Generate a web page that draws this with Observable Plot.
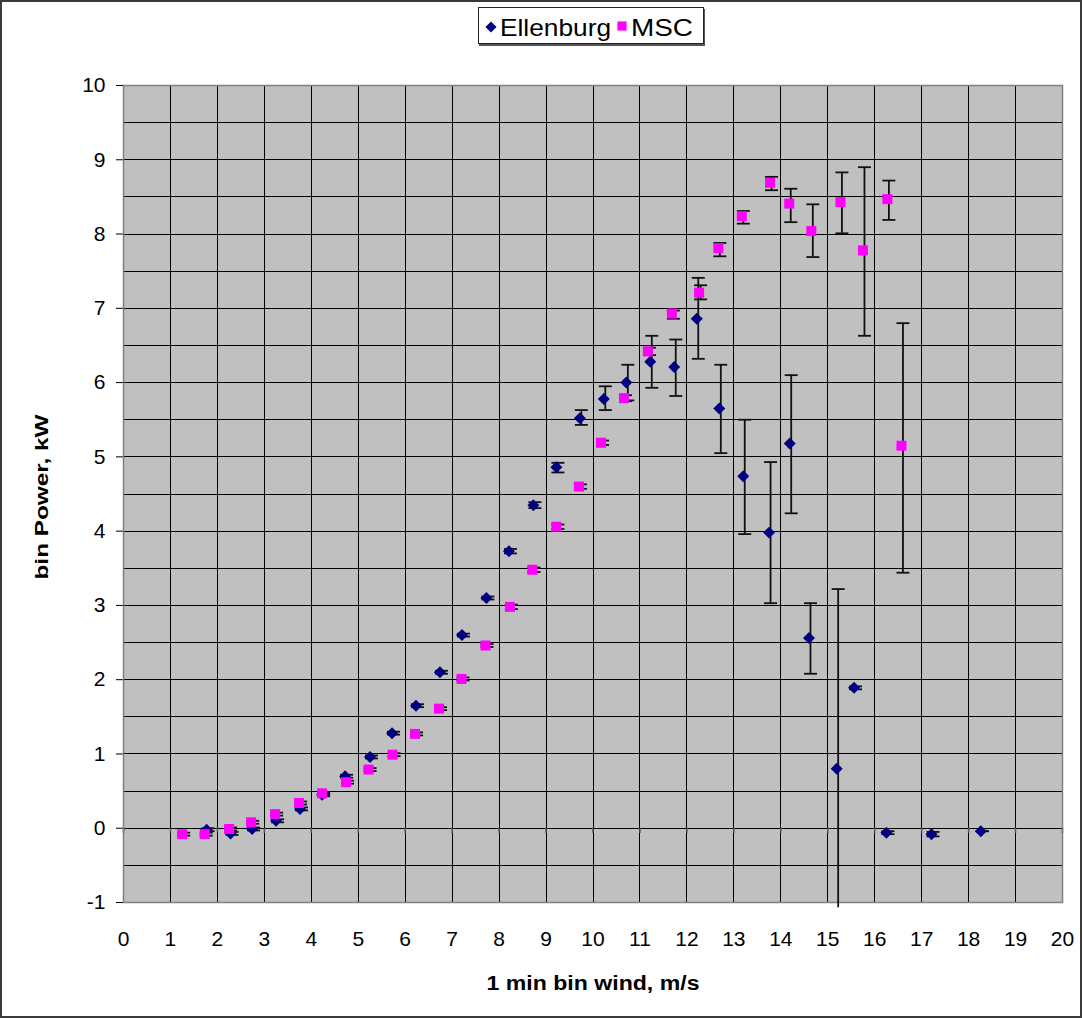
<!DOCTYPE html>
<html>
<head>
<meta charset="utf-8">
<script src="https://cdn.jsdelivr.net/npm/d3@7"></script>
<script src="https://cdn.jsdelivr.net/npm/@observablehq/plot@0.6"></script>
<style>
  html, body { margin: 0; padding: 0; background: #fff; }
  #wrap { position: relative; width: 1082px; height: 1018px; overflow: hidden; font-family: Arial, "Liberation Sans", sans-serif; }
  #border { position: absolute; left: 0; top: 0; width: 1082px; height: 1018px; box-sizing: border-box; border: 2px solid #3a3a3a; pointer-events: none; }
  #legend { position: absolute; left: 478px; top: 7px; width: 226px; height: 37px; background: #fff; border: 1px solid #222; box-shadow: 1px 2px 0 #555; box-sizing: border-box; }
  #legend svg { position: absolute; left: 0; top: 0; }
  #chart { position: absolute; left: 0; top: 0; }
</style>
</head>
<body>
<div id="wrap">
  <div id="chart"></div>
  <div id="legend"></div>
  <div id="border"></div>
</div>
<script>
// ---- Data ----
const seriesNames = ["Ellenburg", "MSC"];
const xTicks = [0,1,2,3,4,5,6,7,8,9,10,11,12,13,14,15,16,17,18,19,20];
const yTicks = [-1,0,1,2,3,4,5,6,7,8,9,10];

const ellX  = [1.77,2.28,2.74,3.25,3.76,4.23,4.72,5.25,5.72,6.23,6.74,7.21,7.73,8.21,8.73,9.22,9.72,10.23,10.71,11.22,11.73,12.21,12.69,13.2,13.75,14.19,14.6,15.19,15.56,16.25,17.21,18.26];
const ellY  = [-0.02,-0.07,-0.01,0.10,0.26,0.45,0.70,0.96,1.28,1.65,2.10,2.60,3.10,3.73,4.35,4.86,5.52,5.78,6.00,6.28,6.21,6.86,5.65,4.74,3.98,5.18,2.56,0.80,1.89,-0.06,-0.08,-0.04];
const ellLo = [-0.04,-0.09,-0.03,0.08,0.24,0.43,0.68,0.94,1.26,1.63,2.08,2.58,3.08,3.70,4.31,4.79,5.43,5.63,5.76,5.93,5.82,6.32,5.05,3.96,3.03,4.24,2.08,-1.07,1.87,-0.08,-0.11,-0.04];
const ellHi = [0.00,-0.05,0.01,0.12,0.28,0.47,0.72,0.98,1.30,1.67,2.12,2.62,3.12,3.76,4.39,4.92,5.63,5.95,6.24,6.63,6.58,7.41,6.24,5.50,4.93,6.10,3.03,3.22,1.91,-0.04,-0.05,-0.04];

const mscX  = [1.25,1.73,2.25,2.72,3.23,3.74,4.23,4.74,5.22,5.73,6.21,6.72,7.2,7.71,8.23,8.71,9.22,9.7,10.17,10.66,11.17,11.68,12.26,12.67,13.17,13.77,14.18,14.65,15.27,15.75,16.27,16.57];
const mscY  = [-0.08,-0.08,-0.01,0.08,0.19,0.34,0.47,0.62,0.79,0.99,1.27,1.61,2.01,2.46,2.98,3.48,4.06,4.60,5.19,5.79,6.42,6.93,7.21,7.81,8.24,8.69,8.41,8.04,8.43,7.78,8.47,5.15];
const mscLo = [-0.10,-0.10,-0.03,0.06,0.17,0.32,0.45,0.60,0.77,0.97,1.25,1.59,1.99,2.44,2.95,3.45,4.03,4.57,5.16,5.75,6.37,6.86,7.12,7.70,8.14,8.59,8.16,7.69,8.01,6.63,8.19,3.44];
const mscHi = [-0.06,-0.06,0.01,0.10,0.21,0.36,0.49,0.64,0.81,1.01,1.29,1.63,2.03,2.48,3.01,3.51,4.09,4.63,5.22,5.83,6.47,6.97,7.31,7.88,8.31,8.77,8.61,8.40,8.83,8.90,8.72,6.80];

const xTitle = "1 min bin wind, m/s";
const yTitle = "bin Power, kW";
const colors = ["#000080", "#ff00ff"];

// ---- Build tables ----
const ell = ellX.map((x, i) => ({x, y: ellY[i], lo: ellLo[i], hi: ellHi[i]}));
const msc = mscX.map((x, i) => ({x, y: mscY[i], lo: mscLo[i], hi: mscHi[i]}));
const yGrid = d3.range(-1, 10.01, 0.5);

const capSymbol = {
  draw(ctx, size) {
    const r = Math.sqrt(size / Math.PI);
    ctx.moveTo(-r, 0);
    ctx.lineTo(r, 0);
  }
};

function errMarks(data) {
  return [
    Plot.ruleX(data, {x: "x", y1: "lo", y2: "hi", stroke: "#111", strokeWidth: 1.8, dx: 1.5}),
    Plot.dot(data, {x: "x", y: "lo", symbol: capSymbol, r: 6.5, stroke: "#111", strokeWidth: 1.8, fill: "none", dx: 1.5, clip: true}),
    Plot.dot(data, {x: "x", y: "hi", symbol: capSymbol, r: 6.5, stroke: "#111", strokeWidth: 1.8, fill: "none", dx: 1.5, clip: true})
  ];
}

const chart = Plot.plot({
  width: 1082,
  height: 1018,
  marginLeft: 123,
  marginRight: 20,
  marginTop: 85,
  marginBottom: 116,
  style: {fontFamily: "Arial, 'Liberation Sans', sans-serif", fontSize: "21px", color: "#000", background: "transparent", overflow: "visible"},
  x: {domain: [0, 20], ticks: xTicks, tickSize: 0, tickPadding: 29, label: null, tickFormat: d => String(d)},
  y: {domain: [-1, 10], ticks: yTicks, tickSize: 7, tickPadding: 11, label: null, tickFormat: d => d < 0 ? "-" + Math.abs(d) : String(d)},
  marks: [
    Plot.frame({fill: "#c0c0c0", stroke: "none"}),
    Plot.ruleY(yGrid, {stroke: "#000", strokeWidth: 1, shapeRendering: "crispEdges"}),
    Plot.ruleX(xTicks, {stroke: "#000", strokeWidth: 1, shapeRendering: "crispEdges"}),
    Plot.ruleX(xTicks, {y1: 0, y2: -0.07, stroke: "#555", strokeWidth: 1.5}),
    Plot.frame({stroke: "#808080", strokeWidth: 1.5}),
    ...errMarks(ell),
    Plot.dot(ell, {x: "x", y: "y", symbol: "diamond2", r: 5.4, fill: colors[0], stroke: "none"}),
    ...errMarks(msc),
    Plot.dot(msc, {x: "x", y: "y", symbol: "square", r: 5.64, fill: colors[1], stroke: "none"})
  ]
});
document.getElementById("chart").appendChild(chart);

// ---- Axis titles ----
const svg = d3.select(chart);
svg.append("text")
  .attr("x", 593).attr("y", 990)
  .attr("text-anchor", "middle")
  .attr("font-family", "Arial, 'Liberation Sans', sans-serif")
  .attr("font-weight", "bold").attr("font-size", 20)
  .attr("textLength", 213).attr("lengthAdjust", "spacingAndGlyphs")
  .attr("fill", "#000")
  .text(xTitle);
svg.append("text")
  .attr("transform", "translate(48,497) rotate(-90)")
  .attr("text-anchor", "middle")
  .attr("font-family", "Arial, 'Liberation Sans', sans-serif")
  .attr("font-weight", "bold").attr("font-size", 19)
  .attr("textLength", 165).attr("lengthAdjust", "spacingAndGlyphs")
  .attr("fill", "#000")
  .text(yTitle);

// ---- Legend ----
const leg = d3.select("#legend").append("svg").attr("width", 226).attr("height", 37);
const symDiamond = d3.symbol(d3.symbolDiamond2, Math.PI * 5 * 5)();
const symSquare = d3.symbol(d3.symbolSquare, Math.PI * 5.2 * 5.2)();
leg.append("path").attr("d", symDiamond).attr("transform", "translate(12,19)").attr("fill", colors[0]);
leg.append("text").attr("x", 21).attr("y", 28)
  .attr("font-family", "Arial, 'Liberation Sans', sans-serif").attr("font-size", 24)
  .attr("textLength", 111).attr("lengthAdjust", "spacingAndGlyphs")
  .text(seriesNames[0]);
leg.append("path").attr("d", symSquare).attr("transform", "translate(143,18)").attr("fill", colors[1]);
leg.append("text").attr("x", 152).attr("y", 28)
  .attr("font-family", "Arial, 'Liberation Sans', sans-serif").attr("font-size", 24)
  .attr("textLength", 62).attr("lengthAdjust", "spacingAndGlyphs")
  .text(seriesNames[1]);
</script>
</body>
</html>
